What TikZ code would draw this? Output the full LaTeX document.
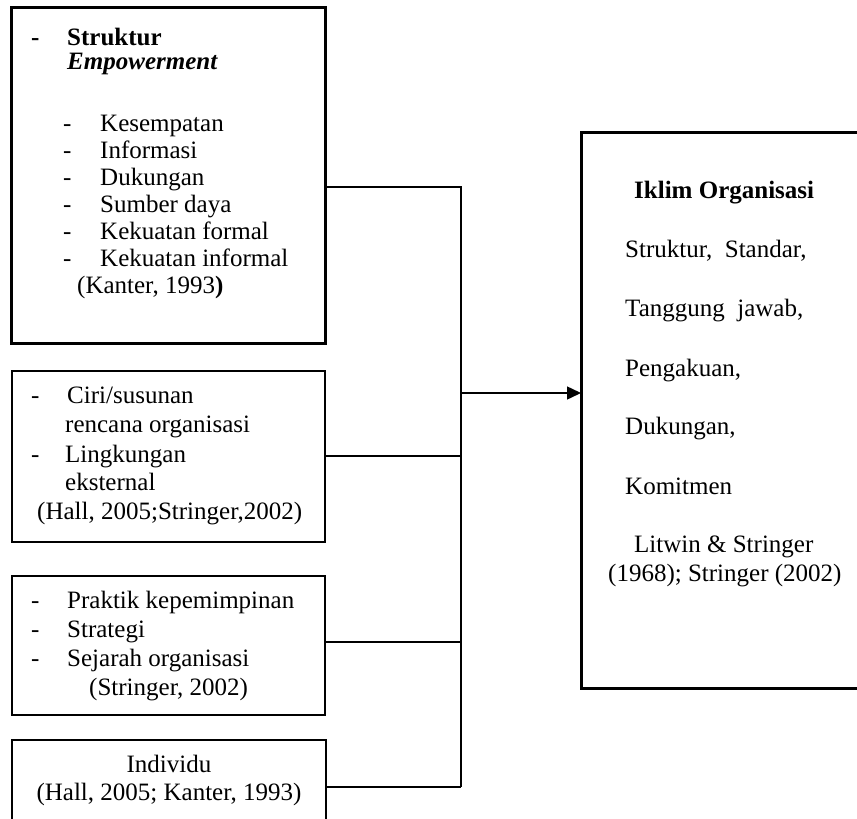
\documentclass[tikz,border=0pt]{standalone}
\usepackage{fontspec}
\setmainfont{Liberation Serif}
\usetikzlibrary{arrows.meta}
\begin{document}
\begin{tikzpicture}[x=1pt,y=-1pt,
  thickbox/.style={draw, line width=3pt, rectangle, anchor=north west, inner sep=0pt, outer sep=0pt},
  thinbox/.style={draw, line width=1.5pt, rectangle, anchor=north west, inner sep=0pt, outer sep=0pt},
  txt/.style={anchor=base west, inner sep=0pt, font=\fontsize{25}{29}\selectfont},
  ctxt/.style={anchor=base, inner sep=0pt, font=\fontsize{25}{29}\selectfont},
  link/.style={line width=1.5pt}]
\useasboundingbox (0,0) rectangle (857,819);
% boxes
\node[thickbox, minimum width=314pt, minimum height=336pt] (b1) at (11,7) {};
\node[thinbox, minimum width=313pt, minimum height=171pt] (b2) at (12,371) {};
\node[thinbox, minimum width=313pt, minimum height=139pt] (b3) at (12,576) {};
\node[thinbox, minimum width=314pt, minimum height=84pt] (b4) at (12,740) {};
\node[thickbox, minimum width=282pt, minimum height=556pt] (rb) at (581,132) {};
% box 1 text
\node[txt] (d0) at (31,45) {\textbf{-}};
\node[txt] (t1) at (67,45) {\textbf{Struktur}};
\node[txt] (t2) at (67,69) {\textbf{\textit{Empowerment}}};
\node[txt] (d1) at (63,131) {-};
\node[txt] (t3) at (100,131) {Kesempatan};
\node[txt] (d2) at (63,158) {-};
\node[txt] (t4) at (100,158) {Informasi};
\node[txt] (d3) at (63,185) {-};
\node[txt] (t5) at (100,185) {Dukungan};
\node[txt] (d4) at (63,212) {-};
\node[txt] (t6) at (100,212) {Sumber daya};
\node[txt] (d5) at (63,239) {-};
\node[txt] (t7) at (100,239) {Kekuatan formal};
\node[txt] (d6) at (63,266) {-};
\node[txt] (t8) at (100,266) {Kekuatan informal};
\node[txt] (t9) at (77,293) {(Kanter, 1993\textbf{)}};
% box 2 text
\node[txt] (e1) at (31,403) {-};
\node[txt] (u1) at (67,403) {Ciri/susunan};
\node[txt] (u2) at (65,432) {rencana organisasi};
\node[txt] (e2) at (31,462) {-};
\node[txt] (u3) at (65,462) {Lingkungan};
\node[txt] (u4) at (65,490) {eksternal};
\node[txt] (u5) at (37,519) {(Hall, 2005;Stringer,2002)};
% box 3 text
\node[txt] (f1) at (31,608) {-};
\node[txt] (v1) at (67,608) {Praktik kepemimpinan};
\node[txt] (f2) at (31,637) {-};
\node[txt] (v2) at (67,637) {Strategi};
\node[txt] (f3) at (31,666) {-};
\node[txt] (v3) at (67,666) {Sejarah organisasi};
\node[txt] (v4) at (89,695) {(Stringer, 2002)};
% box 4 text
\node[ctxt] (w1) at (169,772) {Individu};
\node[ctxt] (w2) at (169,800) {(Hall, 2005; Kanter, 1993)};
% right box text
\node[txt] (r1) at (634,198) {\textbf{Iklim Organisasi}};
\node[txt] (r2) at (625,257) {Struktur,\ \ Standar,};
\node[txt] (r3) at (625,316) {Tanggung\ \ jawab,};
\node[txt] (r4) at (625,376) {Pengakuan,};
\node[txt] (r5) at (625,434) {Dukungan,};
\node[txt] (r6) at (625,494) {Komitmen};
\node[txt] (r7) at (634,552) {Litwin \& Stringer};
\node[txt] (r8) at (608,581) {(1968); Stringer (2002)};
% connectors
\coordinate (j1) at (461,187);
\coordinate (j2) at (461,456);
\coordinate (j3) at (461,642);
\coordinate (j4) at (461,787);
\coordinate (ja) at (461,393);
\draw[link] (b1.east |- j1) -- (j1) -- (j4);
\draw[link] (b2.east |- j2) -- (j2);
\draw[link] (b3.east |- j3) -- (j3);
\draw[link] (b4.east |- j4) -- (j4);
\draw[link, -{Triangle[length=14pt,width=13pt]}] (ja) -- (rb.west |- ja);
\end{tikzpicture}
\end{document}
